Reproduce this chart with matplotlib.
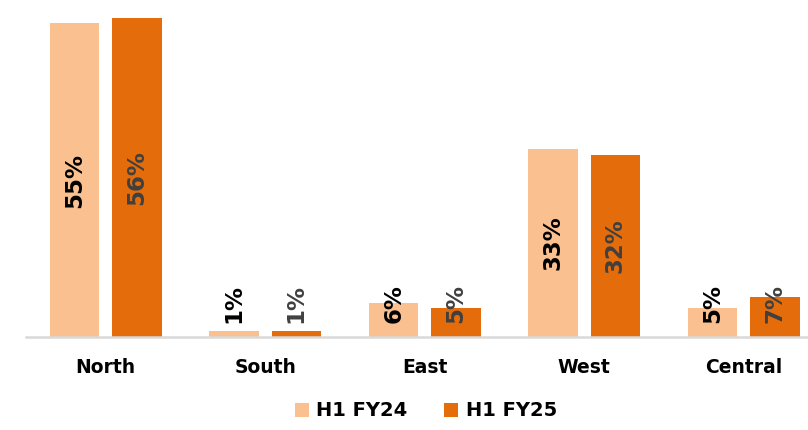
import numpy as np
import matplotlib
matplotlib.use("Agg")
import matplotlib.pyplot as plt

# data
regions = ["North", "South", "East", "West", "Central"]
fy24 = [55, 1, 6, 33, 5]
fy25 = [56, 1, 5, 32, 7]
series_names = ["H1 FY24", "H1 FY25"]

c24 = "#FAC090"
c25 = "#E46C0A"

fig = plt.figure(figsize=(8.08, 4.30), dpi=100)
# axes runs a little past the right edge, like the cropped original
ax = fig.add_axes([26 / 808, 1 - 337 / 430, 797.5 / 808, 337 / 430])

x = np.arange(len(regions))
w = 0.31
off = 0.195
b1 = ax.bar(x - off, fy24, w, color=c24, label=series_names[0])
b2 = ax.bar(x + off, fy25, w, color=c25, label=series_names[1])

ax.set_xlim(-0.5, len(regions) - 0.5)
ax.set_ylim(0, 59.1)

# value labels, rotated, kept off the axis for the small bars
for bars, vals, col in [(b1, fy24, "black"), (b2, fy25, "#404040")]:
    for rect, v in zip(bars, vals):
        ypos = max(v / 2, 5.8)
        ax.text(rect.get_x() + rect.get_width() / 2, ypos, f"{v}%",
                rotation=90, ha="center", va="center",
                fontsize=16.5, fontweight="bold", color=col)

for s in ["top", "right", "left"]:
    ax.spines[s].set_visible(False)
ax.spines["bottom"].set_color("#D9D9D9")
ax.spines["bottom"].set_linewidth(1.8)
ax.set_yticks([])
ax.set_xticks(x)
ax.set_xticklabels(regions, fontsize=13.5, fontweight="bold")
ax.tick_params(axis="x", length=0, pad=15)

fig.legend(loc="center", bbox_to_anchor=(426 / 808, 1 - 411 / 430), ncol=2,
           frameon=False, prop={"size": 14, "weight": "bold"},
           handlelength=0.7, handleheight=0.7, handletextpad=0.4,
           columnspacing=1.9)

fig.savefig("out.png", dpi=100)
